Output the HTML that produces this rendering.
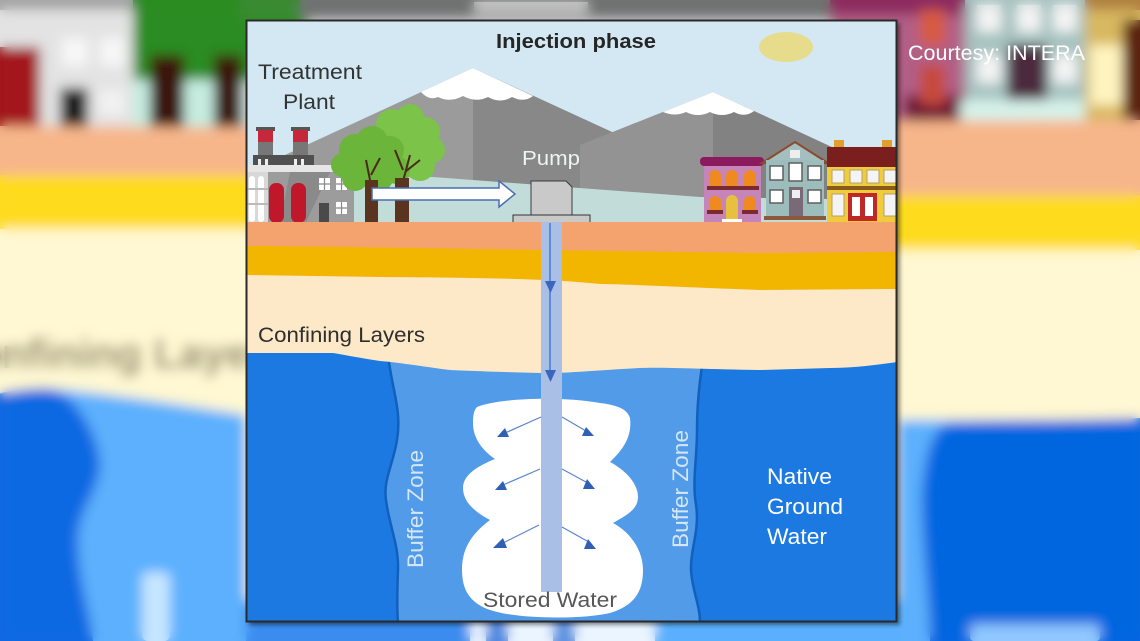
<!DOCTYPE html>
<html><head><meta charset="utf-8"><style>
html,body{margin:0;padding:0;background:#fff;width:1140px;height:641px;overflow:hidden;}
svg{display:block;overflow:hidden;font-family:"Liberation Sans",sans-serif;}
</style></head><body>
<svg width="1140" height="641" viewBox="0 0 1140 641" xmlns="http://www.w3.org/2000/svg">
<defs>
<filter id="bl" filterUnits="userSpaceOnUse" x="-80" y="-80" width="1300" height="801"><feGaussianBlur stdDeviation="6"/></filter>
<filter id="sh" filterUnits="userSpaceOnUse" x="200" y="0" width="760" height="641"><feGaussianBlur stdDeviation="2"/></filter>
<clipPath id="pc"><rect x="246" y="20" width="651" height="602"/></clipPath>
<clipPath id="all"><rect x="0" y="0" width="1140" height="641"/></clipPath>
<g id="bg">
<rect x="0" y="0" width="1140" height="641" fill="#fff8d2"/>
<rect x="0" y="0" width="1140" height="130" fill="#d8d8d8"/>
<rect x="0" y="0" width="133" height="130" fill="#e3e3e3"/>
<rect x="0" y="0" width="133" height="10" fill="#a4a4a4"/>
<rect x="0" y="47" width="40" height="83" fill="#a3161c"/>
<rect x="62" y="38" width="26" height="28" fill="#f7f7f7"/>
<rect x="100" y="38" width="24" height="28" fill="#f7f7f7"/>
<rect x="100" y="90" width="24" height="25" fill="#f2f2f2"/>
<rect x="60" y="88" width="28" height="42" fill="#1e1e1e"/>
<rect x="133" y="0" width="175" height="82" fill="#2c8c20"/>
<rect x="133" y="80" width="113" height="50" fill="#c6ece0"/>
<rect x="150" y="55" width="34" height="75" fill="#3b170a"/>
<rect x="214" y="55" width="28" height="75" fill="#3b170a"/>
<rect x="246" y="0" width="590" height="20" fill="#707272"/>
<rect x="240" y="0" width="60" height="20" fill="#3a8a30"/>
<rect x="474" y="2" width="114" height="12" fill="#c8c8c8"/>
<rect x="830" y="0" width="135" height="125" fill="#b25f86"/>
<rect x="830" y="0" width="135" height="15" fill="#8d2a5e"/>
<rect x="905" y="95" width="60" height="30" fill="#6d1634"/>
<rect x="920" y="10" width="25" height="35" fill="#d85a40"/>
<rect x="920" y="65" width="25" height="40" fill="#c84a3a"/>
<rect x="965" y="0" width="120" height="125" fill="#a6c2c0"/>
<rect x="977" y="5" width="24" height="27" fill="#f4f4f4"/>
<rect x="1017" y="5" width="24" height="27" fill="#f4f4f4"/>
<rect x="1053" y="5" width="24" height="27" fill="#f4f4f4"/>
<rect x="977" y="55" width="24" height="28" fill="#f4f4f4"/>
<rect x="1053" y="55" width="24" height="28" fill="#f4f4f4"/>
<rect x="1007" y="45" width="40" height="60" fill="#4c2c3c"/>
<rect x="960" y="100" width="130" height="25" fill="#d6f2ea"/>
<rect x="1085" y="0" width="55" height="125" fill="#d8b860"/>
<rect x="1085" y="0" width="55" height="10" fill="#b08040"/>
<rect x="1090" y="45" width="32" height="60" fill="#fff4c0"/>
<rect x="1123" y="20" width="17" height="100" fill="#5a2410"/>
<polygon points="0,126 246,127 897,121 1140,120 1140,195 897,195 246,175 0,175" fill="#f7b68a"/>
<polygon points="0,175 246,175 897,195 1140,195 1140,250 897,250 246,229 0,229" fill="#fedb1e"/>
<path d="M 0 393 C 20 389, 40 387, 55 389 C 120 395, 200 408, 246 415 L 246 641 L 0 641 Z" fill="#5cb0fd"/>
<rect x="897" y="420" width="243" height="221" fill="#5cb0fd"/>
<rect x="246" y="600" width="230" height="41" fill="#3b8cee"/>
<rect x="470" y="600" width="190" height="41" fill="#eaf5ff"/>
<rect x="486" y="600" width="22" height="41" fill="#4a86e0"/>
<rect x="553" y="600" width="22" height="41" fill="#5a90e0"/>
<rect x="655" y="600" width="245" height="41" fill="#5ab0fc"/>
<path d="M 0 394 C 20 390, 45 386, 55 390 C 80 400, 100 440, 100 465 C 100 490, 78 510, 78 540 C 78 580, 90 610, 93 641 L 0 641 Z" fill="#0b69e2"/>
<path d="M 950 423 C 930 428, 925 460, 922 490 C 920 530, 930 600, 930 641 L 1140 641 L 1140 418 C 1100 420, 1000 420, 950 423 Z" fill="#0666e0"/>
<text x="-54" y="368" font-size="42" font-weight="bold" fill="#857c5c">Confining Layers</text>
<rect x="142" y="572" width="28" height="69" rx="6" fill="#c6e6ff"/>
<rect x="970" y="624" width="130" height="17" rx="4" fill="#90c8ff"/>
</g>
</defs>

<g clip-path="url(#all)">
<use href="#bg"/>
<use href="#bg" filter="url(#bl)"/>

<text x="908" y="60" font-size="21" fill="#ffffff" textLength="177" lengthAdjust="spacingAndGlyphs">Courtesy: INTERA</text>

<rect x="249" y="23" width="651" height="602" fill="#000" opacity="0.45" filter="url(#sh)"/>

<g clip-path="url(#pc)">
<rect x="246" y="20" width="651" height="602" fill="#d3e8f3"/>
<ellipse cx="786" cy="47" rx="27" ry="15" fill="#e6dc8c"/>
<polygon points="285,155 473,68 473,205 285,205" fill="#9b9b9b"/>
<polygon points="473,68 760,200 760,205 473,205" fill="#888888"/>
<polygon points="580,145 713,92 713,210 580,210" fill="#939393"/>
<polygon points="713,92 860,160 860,210 713,210" fill="#828282"/>
<path d="M 421 92 L 473 68 L 533 96 Q 524 103 512 97 Q 500 104 488 97 Q 476 103 463 96 Q 450 103 438 97 Q 429 101 421 92 Z" fill="#ffffff"/>
<path d="M 663 112 L 713 92 L 754 111 Q 745 118 734 112 Q 722 118 710 112 Q 698 118 686 112 Q 675 117 663 112 Z" fill="#ffffff"/>
<path d="M 246 180 L 433 177 L 700 197 L 897 200 L 897 224 L 246 224 Z" fill="#c2ddd9"/>

<rect x="256" y="127" width="19" height="4" fill="#555"/>
<rect x="258" y="130" width="15" height="12" fill="#c4283a"/>
<rect x="258" y="142" width="15" height="14" fill="#777"/>
<rect x="291" y="127" width="19" height="4" fill="#555"/>
<rect x="293" y="130" width="15" height="12" fill="#c4283a"/>
<rect x="293" y="142" width="15" height="14" fill="#777"/>
<rect x="253" y="155" width="61" height="10" fill="#505050"/>
<rect x="258" y="159" width="3" height="6" fill="#eee"/><rect x="265" y="159" width="3" height="6" fill="#eee"/>
<rect x="294" y="159" width="3" height="6" fill="#eee"/><rect x="301" y="159" width="3" height="6" fill="#eee"/>
<rect x="246" y="165" width="108" height="58" fill="#9c9c9c"/>
<polygon points="290,172 330,172 306,222 280,222" fill="#8a8a8a"/>
<rect x="246" y="165" width="108" height="7" fill="#e6e6e6"/>
<rect x="246" y="172" width="22" height="51" fill="#d8d8d8"/>
<rect x="249" y="176" width="6" height="46" rx="3" fill="#fff"/>
<rect x="258" y="176" width="6" height="46" rx="3" fill="#fff"/>
<rect x="246" y="188" width="22" height="2" fill="#bbb"/><rect x="246" y="203" width="22" height="2" fill="#bbb"/>
<rect x="269" y="183" width="15" height="40" rx="7" fill="#c0182a"/>
<rect x="291" y="183" width="15" height="40" rx="7" fill="#c0182a"/>
<rect x="319" y="178" width="11" height="12" fill="#fff"/><rect x="336" y="178" width="11" height="12" fill="#fff"/>
<rect x="336" y="202" width="11" height="12" fill="#fff"/>
<path d="M 324.5 178 V 190 M 319 184 H 330 M 341.5 178 V 190 M 336 184 H 347 M 341.5 202 V 214 M 336 208 H 347" stroke="#888" stroke-width="1.2"/>
<rect x="319" y="203" width="10" height="20" fill="#4a4a4a"/>

<g fill="#7cc34a">
<circle cx="392" cy="125" r="16"/><circle cx="410" cy="118" r="14"/><circle cx="425" cy="132" r="15"/>
<circle cx="432" cy="150" r="13"/><circle cx="420" cy="166" r="15"/><circle cx="400" cy="160" r="16"/>
<circle cx="385" cy="145" r="14"/><circle cx="405" cy="140" r="20"/>
</g>
<g fill="#6ab53a">
<circle cx="355" cy="150" r="16"/><circle cx="372" cy="142" r="16"/><circle cx="390" cy="150" r="14"/>
<circle cx="396" cy="170" r="14"/><circle cx="380" cy="178" r="13"/><circle cx="355" cy="178" r="13"/>
<circle cx="343" cy="165" r="12"/><circle cx="370" cy="163" r="20"/>
</g>
<path d="M 371 185 L 366 160 M 371 175 L 380 158 M 402 185 L 410 155 M 405 172 L 420 160 M 403 170 L 395 150" stroke="#4a2a18" stroke-width="2" fill="none"/>
<rect x="365" y="180" width="13" height="43" fill="#5b3420"/>
<rect x="395" y="178" width="14" height="45" fill="#5b3420"/>

<path d="M 372 188 L 499 188 L 499 181 L 515 194 L 499 207 L 499 200 L 372 200 Z" fill="#ffffff" stroke="#4a6fb0" stroke-width="1.5"/>

<path d="M 531 217 L 531 181 L 566 181 L 572 187 L 572 217 Z" fill="#c9c9c9" stroke="#3a3a3a" stroke-width="1"/>
<rect x="513" y="215" width="77" height="8" fill="#c9c9c9" stroke="#333" stroke-width="1"/>

<rect x="704" y="163" width="57" height="59" fill="#c585b8"/>
<rect x="700" y="157" width="64" height="9" rx="4" fill="#8b1a5e"/>
<g fill="#f08a20">
<path d="M 709 188 V 176 A 6 6 0 0 1 721 176 V 188 Z"/><path d="M 726 188 V 176 A 6 6 0 0 1 738 176 V 188 Z"/><path d="M 744 188 V 176 A 6 6 0 0 1 756 176 V 188 Z"/>
<path d="M 709 212 V 202 A 6 6 0 0 1 721 202 V 212 Z"/><path d="M 744 212 V 202 A 6 6 0 0 1 756 202 V 212 Z"/>
</g>
<path d="M 726 220 V 201 A 6 6 0 0 1 738 201 V 220 Z" fill="#e8c040"/>
<rect x="707" y="186" width="52" height="4" fill="#7a2a30"/>
<rect x="707" y="210" width="16" height="4" fill="#7a2a30"/><rect x="742" y="210" width="16" height="4" fill="#7a2a30"/>
<rect x="722" y="219" width="20" height="3" fill="#fff"/>

<path d="M 762 163 L 795 142 L 828 163 Z" fill="#a3bfbf" stroke="#8b4a2a" stroke-width="2"/>
<rect x="766" y="160" width="58" height="58" fill="#9dbcbc"/>
<rect x="790" y="150" width="10" height="8" fill="#eee"/>
<g fill="#fff" stroke="#5e5e5e" stroke-width="1.5">
<rect x="770" y="166" width="13" height="14"/><rect x="789" y="163" width="13" height="18"/><rect x="808" y="166" width="13" height="14"/>
<rect x="770" y="190" width="13" height="13"/><rect x="808" y="190" width="13" height="13"/>
</g>
<rect x="789" y="187" width="14" height="29" fill="#7a6a78"/>
<rect x="792" y="190" width="8" height="8" fill="#eee"/>
<rect x="764" y="216" width="62" height="4" fill="#8b5a3a"/>

<rect x="834" y="140" width="10" height="10" fill="#e0a030"/>
<rect x="882" y="140" width="10" height="10" fill="#e0a030"/>
<rect x="827" y="147" width="72" height="20" fill="#7a1e1e"/>
<rect x="827" y="167" width="72" height="56" fill="#f0cc3c"/>
<rect x="827" y="186" width="72" height="4" fill="#8a5a1a"/>
<g fill="#f4f4f4" stroke="#b0a070" stroke-width="1">
<rect x="832" y="170" width="12" height="13"/><rect x="850" y="170" width="12" height="13"/><rect x="867" y="170" width="12" height="13"/><rect x="884" y="170" width="12" height="13"/>
<rect x="832" y="194" width="12" height="22"/><rect x="884" y="194" width="12" height="22"/>
</g>
<rect x="848" y="193" width="29" height="28" fill="#c02828"/>
<rect x="852" y="197" width="8" height="19" fill="#fff"/><rect x="865" y="197" width="8" height="19" fill="#fff"/>

<rect x="246" y="222" width="651" height="80" fill="#f4a36f"/>
<path d="M 246 246 C 380 247, 600 251, 760 253 L 897 252 L 897 289 L 760 290 C 680 287, 620 284, 600 284 C 560 280, 520 278, 380 277 L 246 275 Z" fill="#f2b600"/>
<path d="M 246 275 L 380 277 C 520 278, 560 280, 600 284 C 620 284, 680 287, 760 290 L 897 289 L 897 380 L 246 380 Z" fill="#fde9c7"/>

<rect x="246" y="350" width="651" height="272" fill="#519be9"/>
<path d="M 246 350 L 388 350 L 388 355 C 392 390, 402 410, 397 440 C 393 465, 383 480, 386 500 C 389 525, 399 545, 398 570 C 397 595, 397 610, 398 622 L 246 622 Z" fill="#1b79e1"/>
<path d="M 897 350 L 703 350 L 703 360 C 698 390, 697 410, 697 430 C 697 460, 692 480, 696 505 C 700 530, 690 550, 691 570 C 692 590, 700 605, 700 622 L 897 622 Z" fill="#1b79e1"/>
<path d="M 388 355 C 392 390, 402 410, 397 440 C 393 465, 383 480, 386 500 C 389 525, 399 545, 398 570 C 397 595, 397 610, 398 622" fill="none" stroke="#1260bd" stroke-width="2.5"/>
<path d="M 703 360 C 698 390, 697 410, 697 430 C 697 460, 692 480, 696 505 C 700 530, 690 550, 691 570 C 692 590, 700 605, 700 622" fill="none" stroke="#1260bd" stroke-width="2.5"/>
<path d="M 246 300 L 897 300 L 897 362 C 870 366, 850 368, 830 368 L 760 370 C 700 369, 660 367, 640 368 C 600 370, 570 373, 547 373 C 500 372, 470 371, 450 370 C 420 366, 395 362, 380 361 C 360 358, 345 355, 333 353 L 246 353 Z" fill="#fde9c7"/>

<path d="M 477 407 C 500 398, 560 396, 600 403 C 615 405, 627 408, 630 418 C 632 435, 625 448, 610 462 C 625 470, 638 483, 638 497 C 638 510, 625 516, 613 523 C 630 532, 643 550, 643 570 C 643 590, 636 605, 610 613 C 585 619, 520 620, 490 610 C 470 603, 462 590, 462 570 C 462 550, 470 535, 490 520 C 475 512, 463 502, 463 488 C 463 474, 480 465, 495 459 C 482 450, 473 438, 473 423 C 473 415, 474 410, 477 407 Z" fill="#ffffff"/>

<rect x="541" y="222" width="21" height="370" fill="#a9bfe5"/>
<line x1="550" y1="223" x2="550" y2="378" stroke="#4a78d0" stroke-width="1.5"/>
<polygon points="545,281 556,281 550.5,293" fill="#3a66c0"/>
<polygon points="545,370 556,370 550.5,382" fill="#3a66c0"/>

<g stroke="#5a84cf" stroke-width="1.2">
<line x1="541" y1="417" x2="505" y2="433"/><line x1="562" y1="417" x2="586" y2="431"/>
<line x1="540" y1="469" x2="503" y2="485"/><line x1="562" y1="469" x2="586" y2="482"/>
<line x1="539" y1="525" x2="503" y2="543"/><line x1="562" y1="527" x2="587" y2="541"/>
</g>
<g fill="#3060b4">
<polygon points="497,437 509,437 505,428"/><polygon points="582,436 594,436 586,427"/>
<polygon points="495,490 507,490 503,481"/><polygon points="583,489 595,489 587,479"/>
<polygon points="493,548 507,548 503,538"/><polygon points="584,549 596,549 588,539"/>
</g>

<text x="496" y="48" font-size="20" font-weight="bold" fill="#262626" textLength="160" lengthAdjust="spacingAndGlyphs">Injection phase</text>
<text x="258" y="79" font-size="21" fill="#333" textLength="104" lengthAdjust="spacingAndGlyphs">Treatment</text>
<text x="283" y="109" font-size="21" fill="#333" textLength="52" lengthAdjust="spacingAndGlyphs">Plant</text>
<text x="522" y="165" font-size="20" fill="#eef3f3" textLength="58" lengthAdjust="spacingAndGlyphs">Pump</text>
<text x="258" y="342" font-size="21" fill="#2e2e2e" textLength="167" lengthAdjust="spacingAndGlyphs">Confining Layers</text>
<text x="767" y="484" font-size="22" fill="#ffffff" textLength="65" lengthAdjust="spacingAndGlyphs">Native</text>
<text x="767" y="514" font-size="22" fill="#ffffff" textLength="76" lengthAdjust="spacingAndGlyphs">Ground</text>
<text x="767" y="544" font-size="22" fill="#ffffff" textLength="60" lengthAdjust="spacingAndGlyphs">Water</text>
<text transform="translate(423,568) rotate(-90)" font-size="22" fill="#d4e6f7" textLength="118" lengthAdjust="spacingAndGlyphs">Buffer Zone</text>
<text transform="translate(688,548) rotate(-90)" font-size="22" fill="#d4e6f7" textLength="118" lengthAdjust="spacingAndGlyphs">Buffer Zone</text>
<text x="483" y="607" font-size="21" fill="#575757" textLength="134" lengthAdjust="spacingAndGlyphs">Stored Water</text>
</g>
<rect x="246.5" y="20.5" width="650" height="601" fill="none" stroke="#2a2a2a" stroke-width="2"/>
</g>
</svg>
</body></html>
